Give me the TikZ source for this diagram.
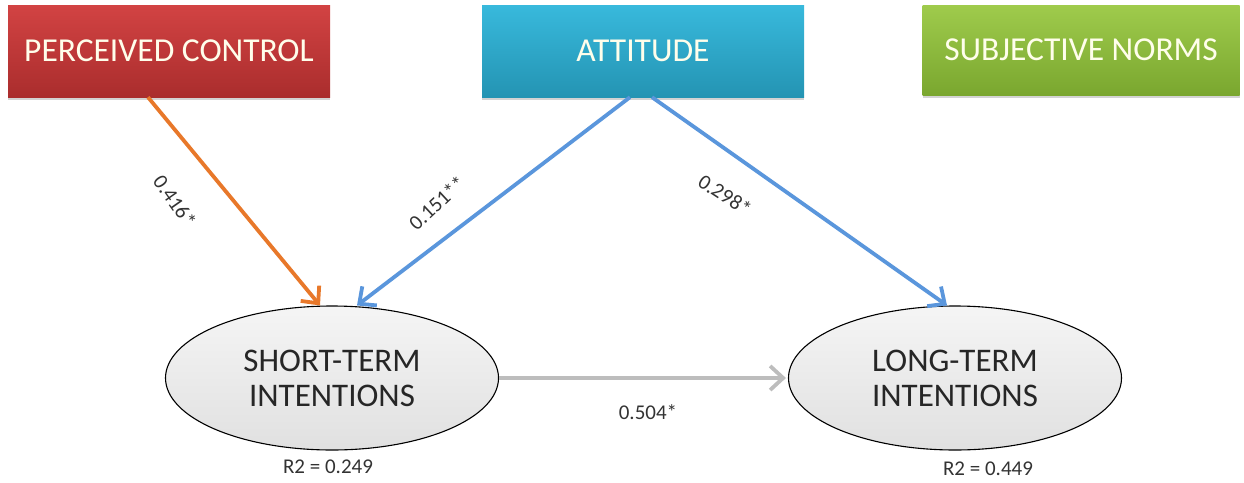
\documentclass[tikz,border=0pt]{standalone}
\usepackage{fontspec}
\setmainfont{Carlito}
\usetikzlibrary{shapes.geometric,arrows.meta,shadows,calc}
\definecolor{redtop}{HTML}{D24343}
\definecolor{redbot}{HTML}{AA2D2D}
\definecolor{cyantop}{HTML}{38B9DC}
\definecolor{cyanbot}{HTML}{2494B3}
\definecolor{greentop}{HTML}{9FCB4C}
\definecolor{greenbot}{HTML}{7AA72F}
\definecolor{orangearr}{HTML}{E8782A}
\definecolor{bluearr}{HTML}{5A96DC}
\definecolor{grayarr}{HTML}{BDBDBD}
\definecolor{labeltext}{HTML}{333333}
\tikzset{
  factor/.style={rectangle, minimum width=322pt, minimum height=92pt, inner sep=0pt,
    text=white!92!yellow, font=\fontsize{33.5}{38}\selectfont,
    drop shadow={opacity=0.35, shadow xshift=0pt, shadow yshift=-3pt}},
  intent/.style={ellipse, draw=black, line width=1.1pt, minimum width=333pt, minimum height=144pt,
    inner sep=0pt, top color=white!92!gray, bottom color=white!76!gray, align=center,
    font=\fontsize{33}{35}\selectfont, text=black!85},
  path/.style={line width=3.8pt, -{Straight Barb[length=13pt,width=24pt,line width=3.8pt]}},
  coef/.style={font=\fontsize{21}{24}\selectfont, text=labeltext, inner sep=0pt}
}
\begin{document}
\begin{tikzpicture}[x=1pt,y=-1pt]
\useasboundingbox (0,0) rectangle (1244,482);
\node[factor, top color=redtop, bottom color=redbot] (pc) at (169,51) {PERCEIVED CONTROL};
\node[factor, top color=cyantop, bottom color=cyanbot] (att) at (643,51) {ATTITUDE};
\node[factor, minimum width=317pt, minimum height=90pt, top color=greentop, bottom color=greenbot] (sn) at (1081,50) {SUBJECTIVE NORMS};
\node[intent] (st) at (332,378) {SHORT-TERM\\INTENTIONS};
\node[intent] (lt) at (955,378) {LONG-TERM\\INTENTIONS};
\draw[path, orangearr] ([xshift=-21pt]pc.south) -- ([xshift=-12pt]st.north);
\draw[path, bluearr] ([xshift=-13pt]att.south) -- ([xshift=25pt]st.north);
\draw[path, bluearr] ([xshift=9pt]att.south) -- ([xshift=-8pt]lt.north);
\draw[path, grayarr, shorten >=2pt] (st.east) -- (lt.west);
\node[coef, rotate=-55] (l1) at (175,201) {0.416*};
\node[coef, rotate=43] (l2) at (437,203) {0.151**};
\node[coef, rotate=-33] (l3) at (725,195) {0.298*};
\node[coef] (l4) at (648,412) {0.504*};
\node[coef] (r1) at (328,467) {R2 = 0.249};
\node[coef] (r2) at (988,469) {R2 = 0.449};
\end{tikzpicture}
\end{document}
